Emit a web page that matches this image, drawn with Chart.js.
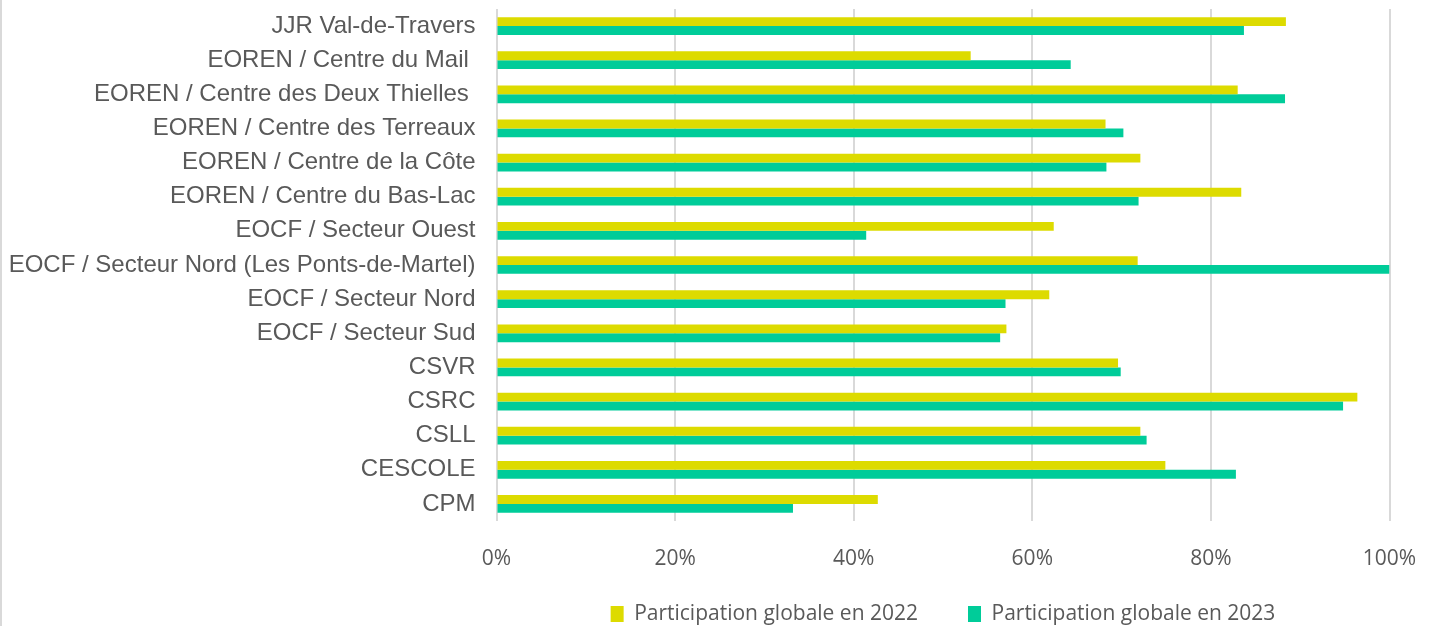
<!DOCTYPE html>
<html>
<head>
<meta charset="utf-8">
<script src="https://cdn.jsdelivr.net/npm/chart.js@4"></script>
<style>
  html, body { margin: 0; padding: 0; background: #fff; }
  #wrap { position: relative; width: 1429px; height: 626px; }
  #edge { position: absolute; left: 0; top: 0; width: 2px; height: 626px; background: #d9d9d9; }
</style>
</head>
<body>
<div id="wrap">
  <canvas id="participationChart" width="1429" height="626"></canvas>
  <div id="edge"></div>
</div>
<script>
// Participation par centre scolaire
const categories = [
    'JJR Val-de-Travers',
    'EOREN / Centre du Mail ',
    'EOREN / Centre des Deux Thielles ',
    'EOREN / Centre des Terreaux',
    'EOREN / Centre de la Côte',
    'EOREN / Centre du Bas-Lac',
    'EOCF / Secteur Ouest',
    'EOCF / Secteur Nord (Les Ponts-de-Martel)',
    'EOCF / Secteur Nord',
    'EOCF / Secteur Sud',
    'CSVR',
    'CSRC',
    'CSLL',
    'CESCOLE',
    'CPM'
];
const participation2022 = [88.4, 53.1, 83.0, 68.2, 72.1, 83.4, 62.4, 71.8, 61.9, 57.1, 69.6, 96.4, 72.1, 74.9, 42.7];
const participation2023 = [83.7, 64.3, 88.3, 70.2, 68.3, 71.9, 41.4, 100, 57.0, 56.4, 69.9, 94.8, 72.8, 82.8, 33.2];
const xTicks = [0, 20, 40, 60, 80, 100];

const calibriLike = '"Open Sans", sans-serif';

// legend height fixed so it sits where the original one does
const legendFit = {
    id: 'legendFit',
    beforeInit: function(chart) {
        const legend = chart.legend;
        const fit = legend.fit;
        legend.fit = function() {
            fit.call(this);
            this.height = 72.6;
        };
    }
};

const ctx = document.getElementById('participationChart').getContext('2d');
const participationChart = new Chart(ctx, {
    type: 'bar',
    data: {
        labels: categories,
        datasets: [{
            label: 'Participation globale en 2022',
            data: participation2022,
            backgroundColor: '#DDDB00',
            categoryPercentage: 0.52,
            barPercentage: 1.0
        }, {
            label: 'Participation globale en 2023',
            data: participation2023,
            backgroundColor: '#00CC99',
            categoryPercentage: 0.52,
            barPercentage: 1.0
        }]
    },
    plugins: [legendFit],
    options: {
        indexAxis: 'y',
        responsive: false,
        animation: false,
        layout: {
            padding: { top: 9, right: 39.5, bottom: 0, left: 0 }
        },
        plugins: {
            legend: {
                position: 'bottom',
                fullSize: false,
                labels: {
                    boxWidth: 13,
                    boxHeight: 16,
                    padding: 50,
                    color: '#595959',
                    font: { family: calibriLike, size: 21 }
                }
            },
            tooltip: { enabled: false }
        },
        scales: {
            x: {
                min: 0,
                max: 100,
                afterBuildTicks: function(scale) {
                    scale.ticks = xTicks.map(v => ({ value: v }));
                },
                afterFit: function(scale) {
                    scale.height = 32.4;
                    scale.paddingLeft = 0;
                    scale.paddingRight = 0;
                    // tick labels hang below the short axis box, don't clip them
                    scale._computeLabelArea = function() { return undefined; };
                },
                grid: {
                    color: '#d9d9d9',
                    lineWidth: 2,
                    drawTicks: false
                },
                border: { display: false },
                ticks: {
                    padding: 25,
                    color: '#595959',
                    font: { family: calibriLike, size: 21 },
                    callback: function(value) { return value + '%'; }
                }
            },
            y: {
                afterFit: function(scale) {
                    scale.width = 496.5;
                    scale.paddingTop = 0;
                    scale.paddingBottom = 0;
                },
                grid: { display: false, drawTicks: false },
                border: { display: false },
                ticks: {
                    padding: 21,
                    autoSkip: false,
                    color: '#595959',
                    font: { family: '"Liberation Sans", Arial, sans-serif', size: 24 }
                }
            }
        }
    }
});
</script>
</body>
</html>
